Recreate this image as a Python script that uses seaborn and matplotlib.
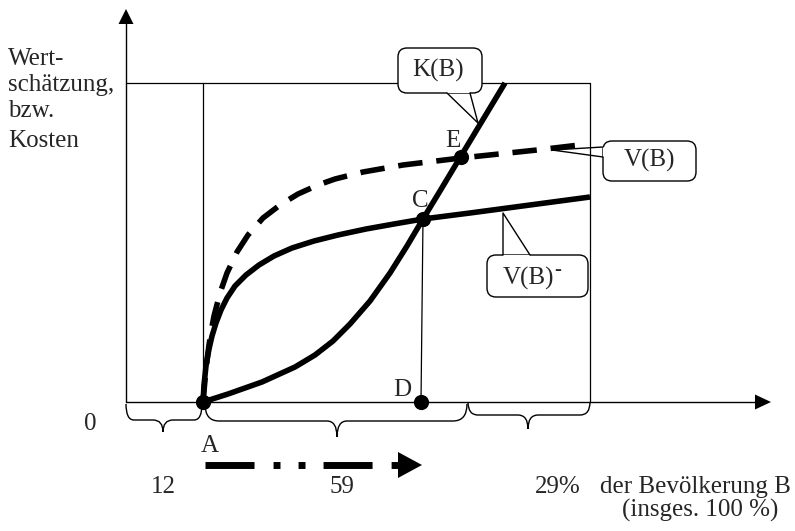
import matplotlib
matplotlib.use("Agg")
import matplotlib.pyplot as plt
from matplotlib.patches import FancyBboxPatch, Polygon, PathPatch
from matplotlib.path import Path
import seaborn as sns

# ---- data (chart units: x = population axis, y = valuation / cost; origin = axis corner)
vminus_x = [77, 78, 80, 83, 86, 90, 95, 101, 109, 120, 133, 148, 166, 188, 212, 240, 268, 297, 344, 404, 464]
vminus_y = [0, 17, 36, 53, 66, 79, 92, 104, 116, 127, 137, 146, 154, 161, 167, 173, 178, 183, 189, 197, 205]
k_x = [77, 102, 136, 169, 189, 207, 224, 244, 264, 281, 297, 314, 335, 379]
k_y = [0, 8, 20, 35, 47, 61, 78, 101, 129, 156, 183, 211, 246, 319]
v_x = [77, 79, 81, 83, 85, 88, 94, 101, 111, 122, 137, 154, 172, 192, 209, 237, 277, 335, 411, 462]
v_y = [0, 22, 42, 57, 70, 86, 109, 129, 150, 167, 184, 197, 208, 217, 223, 230, 237, 244, 252, 258]
point_names = ["A", "C", "D", "E"]
point_x = [77, 297, 295, 335]
point_y = [0, 183, 0, 245]
share_labels = ["12", "59", "29%"]
ylabel_lines = ["Wert-", "schätzung,", "bzw.", "Kosten"]

sns.set_theme(style="white")
plt.rcParams["font.family"] = ["Liberation Serif", "DejaVu Serif"]

fig = plt.figure(figsize=(7.95, 5.31), dpi=100)
ax = fig.add_axes([0, 0, 1, 1])
ax.set_xlim(-126, 669)
ax.set_ylim(-129, 402)
ax.axis("off")

K = "black"
FS = 18

# ---- axes with arrows
ax.plot([0, 0], [0, 380], color=K, lw=1.0, zorder=2)
ax.fill([-7.5, 7.5, 0], [378, 378, 393], color=K, lw=0, zorder=2)
ax.plot([0, 630], [0, 0], color=K, lw=1.0, zorder=2)
ax.fill([629, 629, 645], [7.5, -7.5, 0], color=K, lw=0, zorder=2)

# ---- thin frame lines
ax.plot([0, 464], [319, 319], color=K, lw=0.9, zorder=1)
ax.plot([77, 77], [0, 319], color=K, lw=0.9, zorder=1)
ax.plot([464, 464], [0, 319], color=K, lw=0.9, zorder=1)
ax.plot([point_x[1], point_x[2]], [point_y[1], point_y[2]], color=K, lw=0.9, zorder=1)

# ---- curves
sns.lineplot(x=k_x, y=k_y, ax=ax, color=K, lw=4, estimator=None,
             solid_capstyle="butt", solid_joinstyle="round", zorder=3)
sns.lineplot(x=vminus_x, y=vminus_y, ax=ax, color=K, lw=4, estimator=None,
             solid_capstyle="butt", solid_joinstyle="round", zorder=3)
sns.lineplot(x=v_x, y=v_y, ax=ax, color=K, lw=4, estimator=None,
             linestyle=(0, (4.4, 2.5)), dash_capstyle="butt",
             dash_joinstyle="round", zorder=3)

# ---- points
sns.scatterplot(x=point_x, y=point_y, ax=ax, color=K, s=120, linewidth=0, zorder=4)
label_pos = {"A": (84, -50), "C": (294, 195), "D": (276, 6), "E": (327, 255)}
for n in point_names:
    ax.text(*label_pos[n], n, fontsize=FS, ha="center", va="baseline", zorder=8)

# ---- callouts
def callout(x0, y0, x1, y1, b1, b2, tip, inner):
    box = FancyBboxPatch((x0, y0), x1 - x0, y1 - y0,
                         boxstyle="round,pad=0,rounding_size=9",
                         fc="white", ec=K, lw=1.0, zorder=5)
    ax.add_patch(box)
    ax.add_patch(Polygon([b1, b2, inner[1], inner[0]], closed=True,
                         fc="white", ec="none", zorder=6))
    ax.plot([b1[0], tip[0], b2[0]], [b1[1], tip[1], b2[1]], color=K, lw=1.0, zorder=7)

# K(B)
callout(272, 309, 356, 354, (321, 309), (344, 309), (352, 279),
        [(321.5, 312), (343.5, 312)])
ax.text(312, 325, "K(B)", fontsize=FS, ha="center", va="baseline", zorder=8)
# V(B)
callout(477, 221, 570, 261, (477, 255), (477, 245), (426, 252),
        [(480, 254.5), (480, 245.5)])
ax.text(523, 235, "V(B)", fontsize=FS, ha="center", va="baseline", zorder=8)
# V(B)-
callout(361, 105, 462, 147, (377, 147), (404, 147), (377, 189),
        [(377.5, 144), (403.5, 144)])
ax.text(402, 117, "V(B)", fontsize=FS, ha="center", va="baseline", zorder=8)
ax.text(432, 127, "-", fontsize=15, ha="center", va="baseline", zorder=8)

# ---- braces under the x axis
def brace(x0, x1, xm, yt, yb, ytip, r=10, r2=11):
    verts = [(x0, yt), (x0, yb), (x0 + r, yb),
             (xm - r2, yb), (xm, yb), (xm, ytip),
             (xm, yb), (xm + r2, yb),
             (x1 - r, yb), (x1, yb), (x1, yt)]
    codes = [Path.MOVETO, Path.CURVE3, Path.CURVE3,
             Path.LINETO, Path.CURVE3, Path.CURVE3,
             Path.CURVE3, Path.CURVE3,
             Path.LINETO, Path.CURVE3, Path.CURVE3]
    ax.add_patch(PathPatch(Path(verts, codes), fc="none", ec=K, lw=1.0, zorder=2))

brace(0, 76, 37, -2, -18, -30, r=8, r2=10)
brace(79, 341, 211, -2, -19, -35, r=14, r2=10)
brace(342, 464, 402, 0, -13, -27, r=10, r2=10)

ax.text(37, -91, share_labels[0], fontsize=FS, ha="center", va="baseline")
ax.text(216, -91, share_labels[1], fontsize=FS, ha="center", va="baseline")
ax.text(432, -91, share_labels[2], fontsize=FS, ha="center", va="baseline")
ax.text(474, -91, "der Bevölkerung B", fontsize=FS, ha="left", va="baseline")
ax.text(496, -115, "(insges. 100 %)", fontsize=FS, ha="left", va="baseline")
ax.text(-36, -28, "0", fontsize=FS, ha="center", va="baseline")

# ---- y label
for txt, yb in zip(ylabel_lines, [337, 311, 285, 255]):
    ax.text(-118, yb, txt, fontsize=FS, ha="left", va="baseline")

# ---- dash-dot direction arrow
ax.plot([79, 273], [-63, -63], color=K, lw=5,
        linestyle=(0, (7.06, 2.74, 1.0, 2.6, 1.0, 2.6)), dash_capstyle="butt")
ax.fill([272, 272, 296], [-50, -76, -63], color=K, lw=0)

fig.savefig("out.png", dpi=100)
